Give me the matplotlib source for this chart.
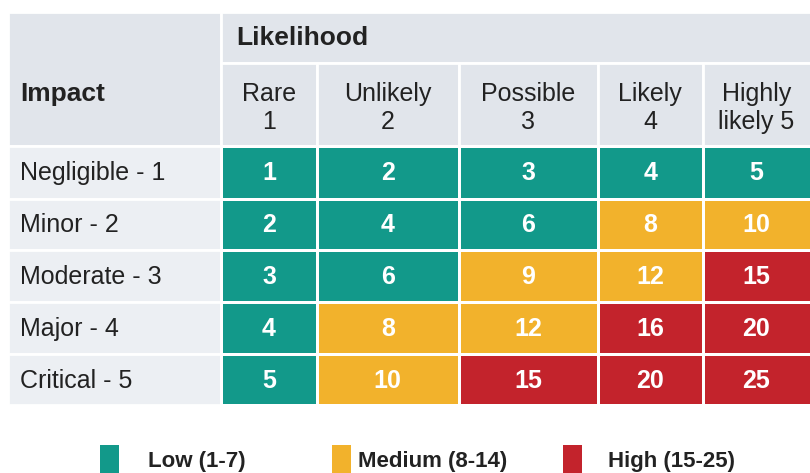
import numpy as np
import matplotlib.pyplot as plt
from matplotlib.colors import ListedColormap, BoundaryNorm
from matplotlib.patches import Rectangle

plt.rcParams['font.family'] = ['Liberation Sans', 'DejaVu Sans']

# data
impact_labels = ["Negligible - 1", "Minor - 2", "Moderate - 3", "Major - 4", "Critical - 5"]
likelihood_labels = ["Rare\n1", "Unlikely\n2", "Possible\n3", "Likely\n4", "Highly\nlikely 5"]
scores = [
    [1, 2, 3, 4, 5],
    [2, 4, 6, 8, 10],
    [3, 6, 9, 12, 15],
    [4, 8, 12, 16, 20],
    [5, 10, 15, 20, 25],
]
risk_names = ["Low (1-7)", "Medium (8-14)", "High (15-25)"]
risk_bounds = [0.5, 7.5, 14.5, 25.5]

# colours
teal = "#12998a"
yellow = "#f2b22c"
red = "#c3232c"
head_grey = "#e1e5eb"
label_grey = "#eceff3"
text_dark = "#222222"

# layout in pixels (figure is 810 x 473)
col_edges = [221, 317, 458.5, 598, 702.5, 815]
row_edges = [146, 198.5, 250, 302, 354, 405]
label_left = 8
gap = 2

fig = plt.figure(figsize=(8.1, 4.73), dpi=100)
ax = fig.add_axes([0, 0, 1, 1])
ax.set_xlim(0, 810)
ax.set_ylim(473, 0)
ax.axis('off')

# header cells
ax.add_patch(Rectangle((label_left, 12), col_edges[0] - label_left, row_edges[0] - 12,
                       facecolor=head_grey, edgecolor='white', lw=gap))
ax.add_patch(Rectangle((col_edges[0], 12), col_edges[-1] - col_edges[0], 51,
                       facecolor=head_grey, edgecolor='white', lw=gap))
for j in range(len(likelihood_labels)):
    ax.add_patch(Rectangle((col_edges[j], 63), col_edges[j + 1] - col_edges[j], row_edges[0] - 63,
                           facecolor=head_grey, edgecolor='white', lw=gap))
    cx = (col_edges[j] + min(col_edges[j + 1], 810)) / 2
    ax.text(cx, 108, likelihood_labels[j], ha='center', va='center', fontsize=18,
            color=text_dark, linespacing=1.2)

ax.text(236, 38, "Likelihood", ha='left', va='center', fontsize=19, fontweight='bold', color=text_dark)
ax.text(20, 94, "Impact", ha='left', va='center', fontsize=19, fontweight='bold', color=text_dark)

# row labels
for i, lab in enumerate(impact_labels):
    ax.add_patch(Rectangle((label_left, row_edges[i]), col_edges[0] - label_left,
                           row_edges[i + 1] - row_edges[i],
                           facecolor=label_grey, edgecolor='white', lw=gap))
    ax.text(20, (row_edges[i] + row_edges[i + 1]) / 2 + 1, lab, ha='left', va='center',
            fontsize=18, color=text_dark)

# risk matrix cells
cmap = ListedColormap([teal, yellow, red])
norm = BoundaryNorm(risk_bounds, cmap.N)
ax.pcolormesh(col_edges, row_edges, np.array(scores), cmap=cmap, norm=norm,
              edgecolors='white', linewidth=gap)

for i in range(len(impact_labels)):
    for j in range(len(likelihood_labels)):
        cx = (col_edges[j] + min(col_edges[j + 1], 810)) / 2
        cy = (row_edges[i] + row_edges[i + 1]) / 2 + 1
        ax.text(cx, cy, str(scores[i][j]), ha='center', va='center', fontsize=18,
                fontweight='bold', color='white')

# legend
legend_x = [100, 332, 563]
legend_text_x = [148, 358, 608]
for k, name in enumerate(risk_names):
    ax.add_patch(Rectangle((legend_x[k], 445), 19, 30, facecolor=cmap(k), edgecolor='none'))
    ax.text(legend_text_x[k], 461, name, ha='left', va='center', fontsize=16,
            fontweight='bold', color=text_dark)

fig.savefig("out.png", dpi=100)
